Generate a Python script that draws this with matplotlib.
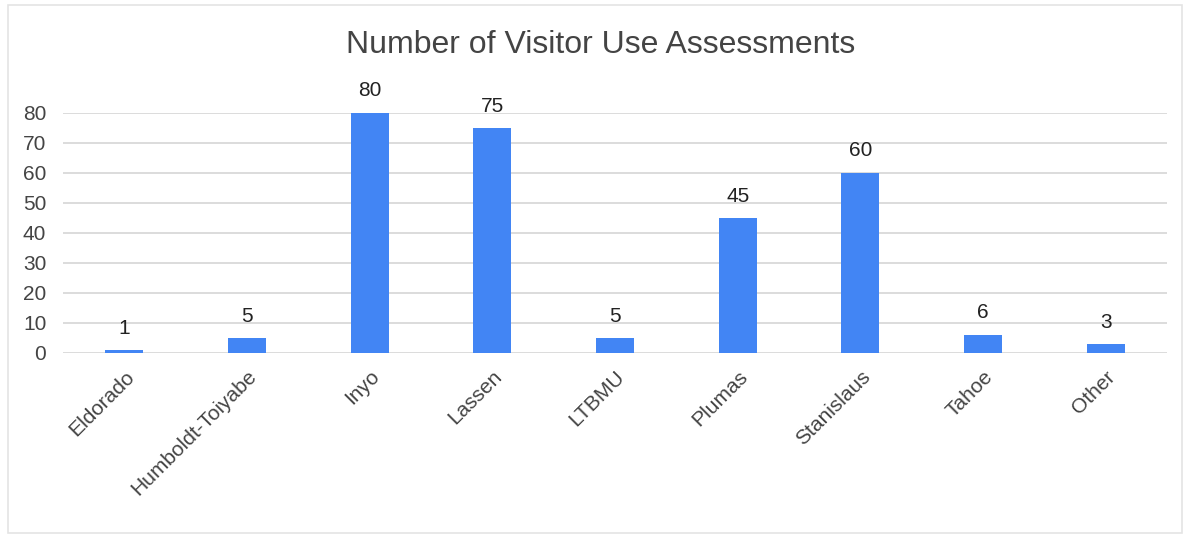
import matplotlib.pyplot as plt
from matplotlib.patches import Rectangle

# datos
categorias = ["Eldorado", "Humboldt-Toiyabe", "Inyo", "Lassen", "LTBMU",
              "Plumas", "Stanislaus", "Tahoe", "Other"]
valores = [1, 5, 80, 75, 5, 45, 60, 6, 3]
ticks_y = [0, 10, 20, 30, 40, 50, 60, 70, 80]

plt.rcParams['font.family'] = ['Liberation Sans', 'DejaVu Sans']

fig = plt.figure(figsize=(11.88, 5.34), dpi=100)
ax = fig.add_axes([63 / 1188, 1 - 353 / 534, 1104 / 1188, 240 / 534])

# marco exterior gris claro
W, H = 1188, 534
fig.patches.append(Rectangle((8 / W, 1 / H), 1174 / W, 528 / H,
                             transform=fig.transFigure, fill=False,
                             edgecolor='#e4e4e4', linewidth=1.2))

x = range(len(categorias))
barras = ax.bar(x, valores, width=0.31, color='#4285F4', zorder=3)

for xi, v in zip(x, valores):
    ax.annotate(str(v), (xi, v), xytext=(0, 9), textcoords='offset points',
                ha='center', va='bottom', fontsize=15, color='#222222',
                annotation_clip=False)

ax.set_xlim(-0.5, len(categorias) - 0.5)
ax.set_ylim(0, 80)
ax.set_yticks(ticks_y)
ax.set_xticks(list(x))
ax.set_xticklabels(categorias, rotation=45, ha='right', rotation_mode='anchor',
                   fontsize=15, color='#444444')
ax.tick_params(axis='y', labelsize=15, labelcolor='#444444', length=0, pad=12)
ax.tick_params(axis='x', length=0, pad=10)
ax.grid(axis='y', color='#d9d9d9', linewidth=1.3, zorder=0)
ax.set_axisbelow(True)
for s in ax.spines.values():
    s.set_visible(False)

fig.text(601 / W, 1 - 45 / H, "Number of Visitor Use Assessments",
         ha='center', va='center', fontsize=23, color='#444444')

fig.savefig("out.png", dpi=100)
